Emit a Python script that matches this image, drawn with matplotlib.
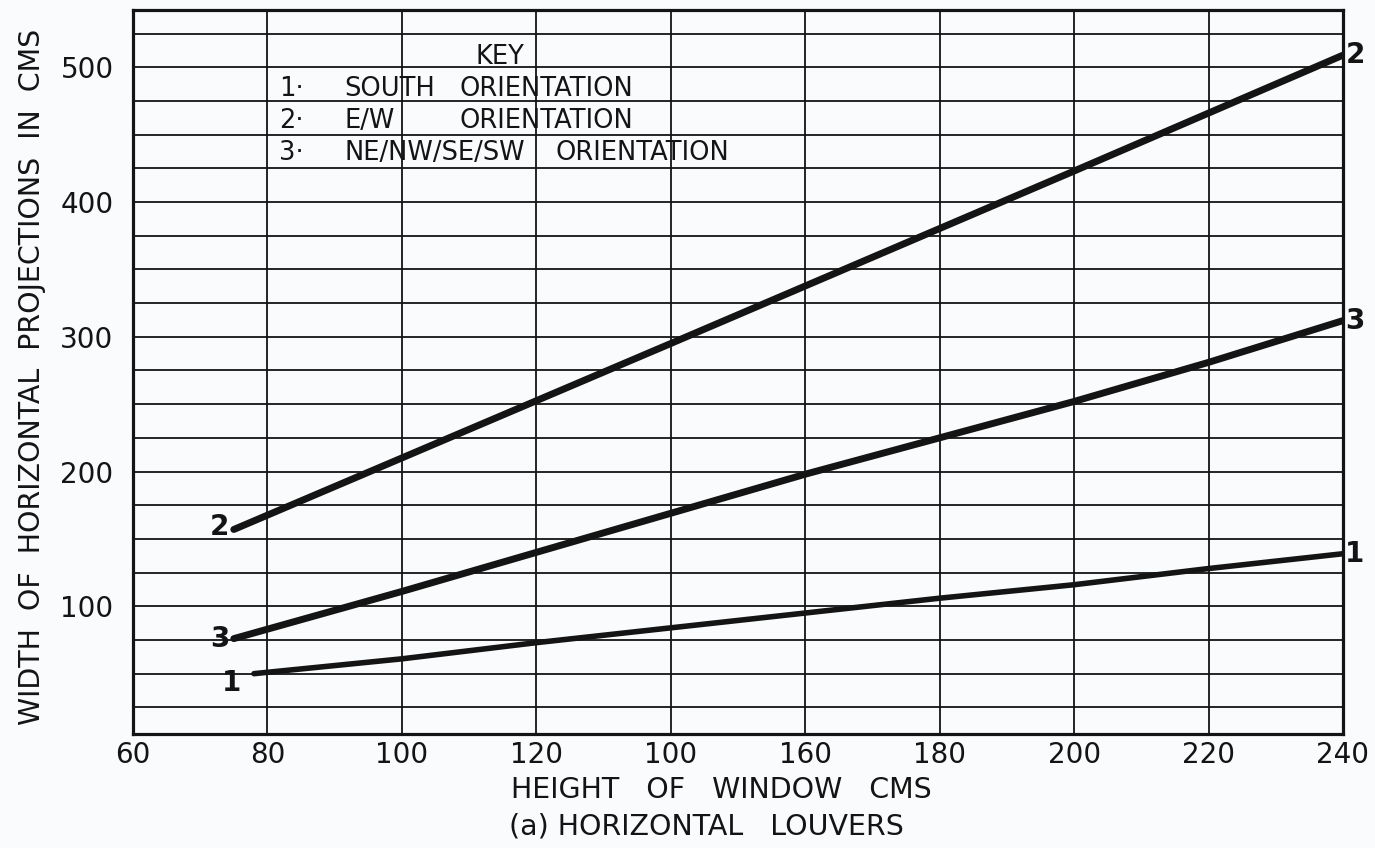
import numpy as np
import matplotlib.pyplot as plt

# window height (cm) vs width of horizontal projection (cm)
south_h = [78, 80, 100, 120, 140, 160, 180, 200, 220, 240]
south_w = [50, 51, 61, 73, 84, 95, 106, 116, 128, 139]
ew_h = [75, 140, 200, 240]
ew_w = [157, 295, 423, 509]
diag_h = [75, 80, 100, 120, 140, 160, 180, 200, 220, 240]
diag_w = [76, 83, 111, 140, 169, 198, 225, 252, 281, 312]

x_ticks = [60, 80, 100, 120, 140, 160, 180, 200, 220, 240]
# 140 is printed as "100" on the original drawing
x_tick_labels = ["60", "80", "100", "120", "100", "160", "180", "200", "220", "240"]
y_ticks = [100, 200, 300, 400, 500]
y_minor = list(range(25, 526, 25))

key_nums = ["1·", "2·", "3·"]
key_first = ["SOUTH", "E/W", "NE/NW/SE/SW"]

BG = "#f9fbfc"
INK = "#141414"
FONT = "DejaVu Sans"

fig = plt.figure(figsize=(13.75, 8.48), dpi=100, facecolor=BG)
ax = fig.add_axes([0.0967, 0.1344, 0.88, 0.8538])
ax.set_facecolor(BG)

ax.set_xlim(60, 240)
ax.set_ylim(5.2, 542.5)

ax.set_xticks(x_ticks)
ax.set_xticklabels(x_tick_labels, fontsize=20, family=FONT, color=INK)
ax.set_yticks(y_ticks)
ax.set_yticklabels([str(v) for v in y_ticks], fontsize=20, family=FONT, color=INK)
ax.set_yticks(y_minor, minor=True)
ax.tick_params(axis="x", length=0, pad=5)
ax.tick_params(axis="y", which="both", length=0, pad=14)

ax.grid(True, axis="x", which="major", color=INK, linewidth=1.3)
ax.grid(True, axis="y", which="both", color=INK, linewidth=1.3)
ax.set_axisbelow(True)
for s in ax.spines.values():
    s.set_linewidth(2.3)
    s.set_color(INK)

# curves
ax.plot(ew_h, ew_w, color=INK, linewidth=5.0, solid_capstyle="round", zorder=3)
ax.plot(diag_h, diag_w, color=INK, linewidth=5.0, solid_capstyle="round", zorder=3)
ax.plot(south_h, south_w, color=INK, linewidth=4.0, solid_capstyle="round", zorder=3)

# curve numbers at both ends
lab_kw = dict(fontsize=20, fontweight="bold", family=FONT, color=INK,
              ha="center", va="center", annotation_clip=False)
for num, xs, ys, dy_left in [("2", ew_h, ew_w, 2), ("3", diag_h, diag_w, 0), ("1", south_h, south_w, -9)]:
    ax.annotate(num, (xs[0], ys[0]), xytext=(-14 if num != "1" else -22, dy_left),
                textcoords="offset pixels", **lab_kw)
    ax.annotate(num, (xs[-1], ys[-1]), xytext=(12, 0),
                textcoords="offset pixels", **lab_kw)

# key
key_kw = dict(transform=ax.transAxes, fontsize=18.5, family=FONT, color=INK, va="center")
ax.text(0.303, 0.935, "KEY", ha="center", **key_kw)
rows_y = [0.891, 0.847, 0.802]
orient_x = [0.270, 0.270, 0.349]
for num, first, yy, ox in zip(key_nums, key_first, rows_y, orient_x):
    ax.text(0.131, yy, num, ha="center", **key_kw)
    ax.text(0.175, yy, first, ha="left", **key_kw)
    ax.text(ox, yy, "ORIENTATION", ha="left", **key_kw)

# axis titles
fig.text(32 / 1375, 1 - 377 / 848, "WIDTH  OF  HORIZONTAL  PROJECTIONS  IN  CMS",
         rotation=90, ha="center", va="center", fontsize=20.5, family=FONT, color=INK)
fig.text(721 / 1375, 1 - 790 / 848, "HEIGHT   OF   WINDOW   CMS",
         ha="center", va="center", fontsize=20.5, family=FONT, color=INK)
fig.text(706 / 1375, 1 - 827 / 848, "(a) HORIZONTAL   LOUVERS",
         ha="center", va="center", fontsize=20.5, family=FONT, color=INK)

fig.savefig("out.png", dpi=100, facecolor=BG)
